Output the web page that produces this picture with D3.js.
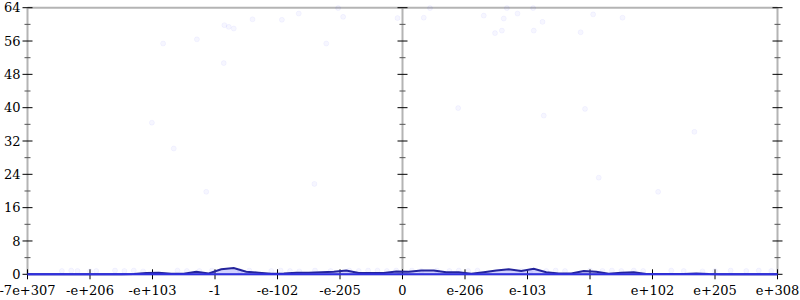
<!DOCTYPE html>
<html>
<head>
<meta charset="utf-8">
<script src="https://cdn.jsdelivr.net/npm/d3@7"></script>
<style>
  body { margin: 0; background: #fff; }
  text { font-family: "DejaVu Serif", serif; font-size: 13px; fill: #000; }
</style>
</head>
<body>
<div id="chart"></div>
<script>
var width = 800, height = 300,
    margin = {top: 7.7, bottom: 25.7, left: 27.5, right: 22.5};

// x axis labels, one per tick (evenly spaced positions 0..12)
var xTickLabels = ["-7e+307", "-e+206", "-e+103", "-1", "-e-102", "-e-205", "0",
                   "e-206", "e-103", "1", "e+102", "e+205", "e+308"];
var yTicks = [0, 8, 16, 24, 32, 40, 48, 56, 64];
var yMinor = [4, 12, 20, 28, 36, 44, 52, 60];

// histogram counts, 60 bins of width 0.2 tick
var binCounts = [0, 0, 0, 0, 0, 0, 0, 0, 0.1, 0.3,
                 0.4, 0.15, 0.15, 0.6, 0.2, 1.2, 1.5, 0.6, 0.4, 0.15,
                 0.2, 0.4, 0.4, 0.5, 0.6, 0.9, 0.3, 0.3, 0.3, 0.7,
                 0.6, 0.9, 0.9, 0.5, 0.5, 0.15, 0.5, 0.9, 1.2, 0.8,
                 1.3, 0.5, 0.2, 0.2, 0.8, 0.6, 0.15, 0.4, 0.5, 0.1,
                 0.1, 0.05, 0.05, 0.2, 0.05, 0, 0, 0, 0, 0];

// faint samples (position in tick units, value)
var sampleX = [2.17, 2.71, 3.15, 3.22, 3.30, 3.60, 4.07, 4.34, 4.97, 5.05, 5.92, 4.78,
               3.14, 1.99, 2.34, 4.59, 2.86, 6.44, 6.34, 7.30, 7.67, 7.62, 7.84, 8.09,
               8.24, 9.05, 9.52, 7.48, 7.59, 8.10, 8.85, 6.89, 8.26, 8.92, 10.67, 9.14, 10.09];
var sampleY = [55.4, 56.4, 59.8, 59.4, 59.0, 61.2, 61.1, 62.6, 63.9, 61.8, 61.5, 55.4,
               50.7, 36.4, 30.2, 21.7, 19.8, 63.9, 61.6, 62.1, 63.9, 61.4, 62.6, 63.9,
               60.6, 62.4, 61.6, 57.9, 58.5, 58.5, 58.1, 39.9, 38.1, 39.7, 34.2, 23.2, 19.8];
// faint samples sitting near the bottom
var lowX = [0.55, 0.7, 0.8, 1.0, 1.1, 1.4, 1.55, 1.7, 1.85, 2.4, 2.55, 2.75, 2.95,
            3.4, 3.55, 3.9, 4.05, 4.2, 4.35, 4.6, 4.85, 5.15, 5.3, 5.45, 5.6, 5.75, 5.9,
            6.15, 6.3, 6.55, 6.75, 6.9, 7.05, 7.2, 7.9, 8.05, 8.3, 8.45, 8.6,
            9.0, 9.2, 9.35, 9.5, 9.7, 9.85, 10.3, 10.5, 10.8, 11.0, 11.25, 11.5, 11.7, 11.9];
var lowY = [0.8, 0.9, 0.8, 0.7, 0.8, 0.9, 0.8, 0.9, 0.7, 0.9, 0.8, 0.8, 0.9,
            0.8, 0.9, 0.8, 0.9, 0.8, 0.7, 0.9, 0.8, 0.9, 0.8, 0.9, 0.9, 0.8, 0.9,
            0.9, 0.8, 0.9, 0.8, 0.9, 0.8, 0.9, 0.8, 0.9, 0.8, 0.9, 0.8,
            0.9, 0.8, 0.9, 0.8, 0.9, 0.8, 0.9, 0.8, 0.7, 0.8, 0.9, 0.8, 0.9, 0.8];

var innerW = width - margin.left - margin.right,
    innerH = height - margin.top - margin.bottom;

var x = d3.scaleLinear().domain([0, 12]).range([0, innerW]);
var y = d3.scaleLinear().domain([0, 64]).range([innerH, 0]);

var svg = d3.select("#chart").append("svg")
  .attr("width", width)
  .attr("height", height)
  .append("g")
  .attr("transform", "translate(" + margin.left + "," + margin.top + ")");

// frame: top line, left, middle and right axes
var axisColor = "#b4b4b4";
svg.append("line").attr("x1", 0).attr("x2", innerW).attr("y1", 0).attr("y2", 0)
  .style("stroke", axisColor).style("stroke-width", 2);
svg.append("line").attr("x1", 0).attr("x2", innerW).attr("y1", innerH).attr("y2", innerH)
  .style("stroke", axisColor).style("stroke-width", 2);

[0, 6, 12].forEach(function(p) {
  var g = svg.append("g").attr("transform", "translate(" + x(p) + ",0)");
  g.append("line").attr("y1", 0).attr("y2", innerH)
    .style("stroke", axisColor).style("stroke-width", 2);
  g.selectAll(".minor").data(yMinor).enter().append("line")
    .attr("x1", -3).attr("x2", 3)
    .attr("y1", function(d) { return y(d); }).attr("y2", function(d) { return y(d); })
    .style("stroke", "#555").style("stroke-width", 1);
  g.selectAll(".major").data(yTicks).enter().append("line")
    .attr("x1", -5).attr("x2", 5)
    .attr("y1", function(d) { return y(d); }).attr("y2", function(d) { return y(d); })
    .style("stroke", "#000").style("stroke-width", 1);
});

// y labels
svg.selectAll(".ylab").data(yTicks).enter().append("text")
  .attr("x", -7)
  .attr("y", function(d) { return y(d); })
  .attr("dy", "0.35em")
  .attr("text-anchor", "end")
  .text(function(d) { return d; });

// x ticks and labels
var xt = svg.selectAll(".xt").data(xTickLabels).enter().append("g")
  .attr("transform", function(d, i) { return "translate(" + x(i) + "," + innerH + ")"; });
xt.append("line").attr("y1", -5).attr("y2", 5)
  .style("stroke", "#000").style("stroke-width", 1);
xt.append("text")
  .attr("y", 21)
  .attr("text-anchor", "middle")
  .text(function(d) { return d; });

// faint samples
var samples = sampleX.map(function(d, i) { return [d, sampleY[i]]; })
  .concat(lowX.map(function(d, i) { return [d, lowY[i]]; }));
svg.selectAll(".pt").data(samples).enter().append("circle")
  .attr("cx", function(d) { return x(d[0]); })
  .attr("cy", function(d) { return y(d[1]); })
  .attr("r", 2.5)
  .style("fill", "#0000ff").style("fill-opacity", 0.035)
  .style("stroke", "#0000ff").style("stroke-opacity", 0.04);

// histogram line
var bins = binCounts.map(function(c, i) { return [i * 0.2 + 0.1, c]; });
bins.unshift([0, binCounts[0]]);
bins.push([12, binCounts[binCounts.length - 1]]);

svg.append("path")
  .datum(bins)
  .attr("d", d3.area()
    .x(function(d) { return x(d[0]); })
    .y0(innerH)
    .y1(function(d) { return y(d[1]); }))
  .style("fill", "#4a4aff").style("fill-opacity", 0.25);

svg.append("path")
  .datum(bins)
  .attr("d", d3.line()
    .x(function(d) { return x(d[0]); })
    .y(function(d) { return y(d[1]); }))
  .style("fill", "none")
  .style("stroke", "#24249c")
  .style("stroke-width", 2);

svg.append("line").attr("x1", 0).attr("x2", innerW).attr("y1", innerH).attr("y2", innerH)
  .style("stroke", "#3030e0").style("stroke-width", 2);
</script>
</body>
</html>
